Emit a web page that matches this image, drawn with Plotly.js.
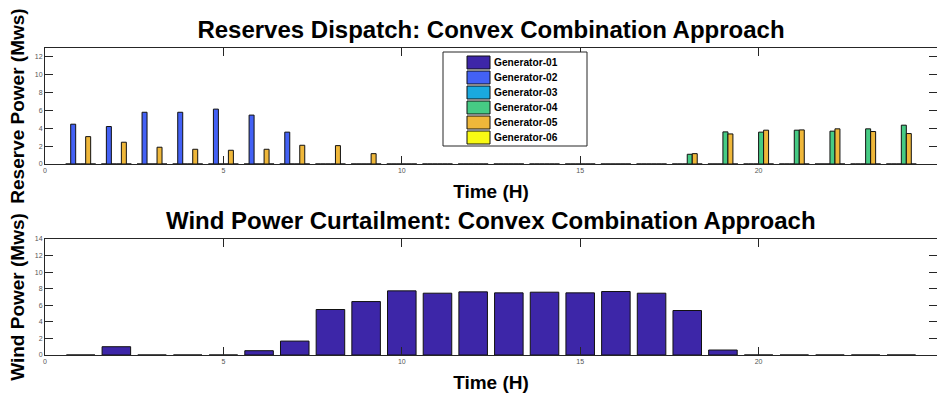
<!DOCTYPE html>
<html>
<head>
<meta charset="utf-8">
<script src="https://cdn.plot.ly/plotly-3.0.1.min.js"></script>
<style>html,body{margin:0;padding:0;background:#fff;}#chart{width:937px;height:396px;}</style>
</head>
<body>
<div id="chart"></div>
<script>
// ---- data ----
const hours = [1,2,3,4,5,6,7,8,9,10,11,12,13,14,15,16,17,18,19,20,21,22,23,24];
const generatorNames = ["Generator-01","Generator-02","Generator-03","Generator-04","Generator-05","Generator-06"];
const gen01 = [0,0,0,0,0,0,0,0,0,0,0,0,0,0,0,0,0,0,0,0,0,0,0,0];
const gen02 = [4.46,4.2,5.8,5.8,6.15,5.48,3.57,0,0,0,0,0,0,0,0,0,0,0,0,0,0,0,0,0];
const gen03 = [0,0,0,0,0,0,0,0,0,0,0,0,0,0,0,0,0,0,0,0,0,0,0,0];
const gen04 = [0,0,0,0,0,0,0,0,0,0,0,0,0,0,0,0,0,1.09,3.6,3.57,3.79,3.68,3.94,4.35];
const gen05 = [3.07,2.44,1.88,1.65,1.54,1.65,2.1,2.06,1.16,0,0,0,0,0,0,0,0,1.16,3.37,3.79,3.82,3.94,3.64,3.41];
const gen06 = [0,0,0,0,0,0,0,0,0,0,0,0,0,0,0,0,0,0,0,0,0,0,0,0];
const windCurtailment = [0,1.0,0,0,0,0.52,1.68,5.49,6.45,7.74,7.46,7.62,7.5,7.58,7.5,7.66,7.46,5.37,0.6,0,0,0,0,0];
const xTicks = [0,5,10,15,20,25];
const yTicksTop = [0,2,4,6,8,10,12];
const yTicksBottom = [0,2,4,6,8,10,12,14];

// ---- styles ----
const genColors = ["#3D26A8","#4361F5","#1AA9DF","#46CB84","#EFB73A","#F9FA14"];
const genSeries = [gen01,gen02,gen03,gen04,gen05,gen06];
const FONT = "Liberation Sans, Arial, Helvetica, sans-serif";

// plot area in pixels: left 45, right 937, top 48, bottom 355
const PL = 45, PW = 892, PB = 355, PH = 307;
const px = p => (p - PL) / PW;
const py = p => (PB - p) / PH;

const traces = genSeries.map((vals, i) => ({
  type: "bar",
  x: hours,
  y: vals,
  name: generatorNames[i],
  xaxis: "x",
  yaxis: "y",
  showlegend: false,
  marker: {color: genColors[i], line: {color: "#111", width: 1}},
  hoverinfo: "x+y+name"
}));
traces.push({
  type: "bar",
  x: hours,
  y: windCurtailment,
  name: "Wind Curtailment",
  xaxis: "x2",
  yaxis: "y2",
  width: 0.8,
  showlegend: false,
  marker: {color: "#3D26A8", line: {color: "#111", width: 1}}
});

const axCommon = {
  showline: true, mirror: "ticks", linecolor: "#262626", linewidth: 1,
  ticks: "inside", ticklen: 8, tickcolor: "#262626", tickwidth: 1,
  showgrid: false, zeroline: false,
  tickfont: {family: FONT, size: 7, color: "#555"}
};
const titleFont = {family: FONT, size: 19, color: "#000", weight: "bold"};

// ---- MATLAB-style legend box (swatches + real text) ----
const legendBox = {x0: 443, x1: 587, y0: 52, y1: 146};
const legendRow0 = 62.5, legendRowStep = 15, swX0 = 467, swX1 = 490, swH = 13;
const shapes = [{
  type: "rect", xref: "paper", yref: "paper", layer: "above",
  x0: px(legendBox.x0), x1: px(legendBox.x1), y0: py(legendBox.y1), y1: py(legendBox.y0),
  fillcolor: "#fff", line: {color: "#262626", width: 1}
}];
const annotations = [{
  text: "Wind Power Curtailment: Convex Combination Approach",
  xref: "paper", yref: "paper", x: 0.5, y: py(220),
  xanchor: "center", yanchor: "middle", showarrow: false,
  font: {family: FONT, size: 24, color: "#000", weight: "bold"}
}];
generatorNames.forEach((name, i) => {
  const cy = legendRow0 + i * legendRowStep;
  shapes.push({
    type: "rect", xref: "paper", yref: "paper", layer: "above",
    x0: px(swX0), x1: px(swX1), y0: py(cy + swH / 2), y1: py(cy - swH / 2),
    fillcolor: genColors[i], line: {color: "#111", width: 1}
  });
  annotations.push({
    text: name, xref: "paper", yref: "paper",
    x: px(swX1 + 1.5), y: py(cy), xanchor: "left", yanchor: "middle",
    showarrow: false,
    font: {family: FONT, size: 10.2, color: "#000", weight: "bold"}
  });
});

const layout = {
  width: 937, height: 396,
  margin: {l: PL, r: 0, t: 48, b: 41},
  paper_bgcolor: "#fff", plot_bgcolor: "#fff",
  barmode: "group", bargap: 0.16, bargroupgap: 0,
  showlegend: false,
  title: {
    text: "Reserves Dispatch: Convex Combination Approach",
    font: {family: FONT, size: 24, color: "#000", weight: "bold"},
    xref: "paper", x: 0.5, xanchor: "center",
    yref: "container", y: 1 - 29.5/396, yanchor: "middle"
  },
  xaxis: Object.assign({}, axCommon, {
    domain: [0, 1], range: [0, 25], tickvals: xTicks, anchor: "y",
    title: {text: "Time (H)", font: titleFont, standoff: 11}
  }),
  yaxis: Object.assign({}, axCommon, {
    domain: [py(164), 1], range: [0, 13], tickvals: yTicksTop, anchor: "x",
    title: {text: "Reserve Power (Mws)", font: titleFont, standoff: 5}
  }),
  xaxis2: Object.assign({}, axCommon, {
    domain: [0, 1], range: [0, 25], tickvals: xTicks, anchor: "y2",
    title: {text: "Time (H)", font: titleFont, standoff: 11}
  }),
  yaxis2: Object.assign({}, axCommon, {
    domain: [0, py(239)], range: [0, 14], tickvals: yTicksBottom, anchor: "x2",
    title: {text: "Wind Power (Mws)", font: titleFont, standoff: 5}
  }),
  shapes: shapes,
  annotations: annotations
};

Plotly.newPlot("chart", traces, layout, {displayModeBar: false, staticPlot: true});
</script>
</body>
</html>
